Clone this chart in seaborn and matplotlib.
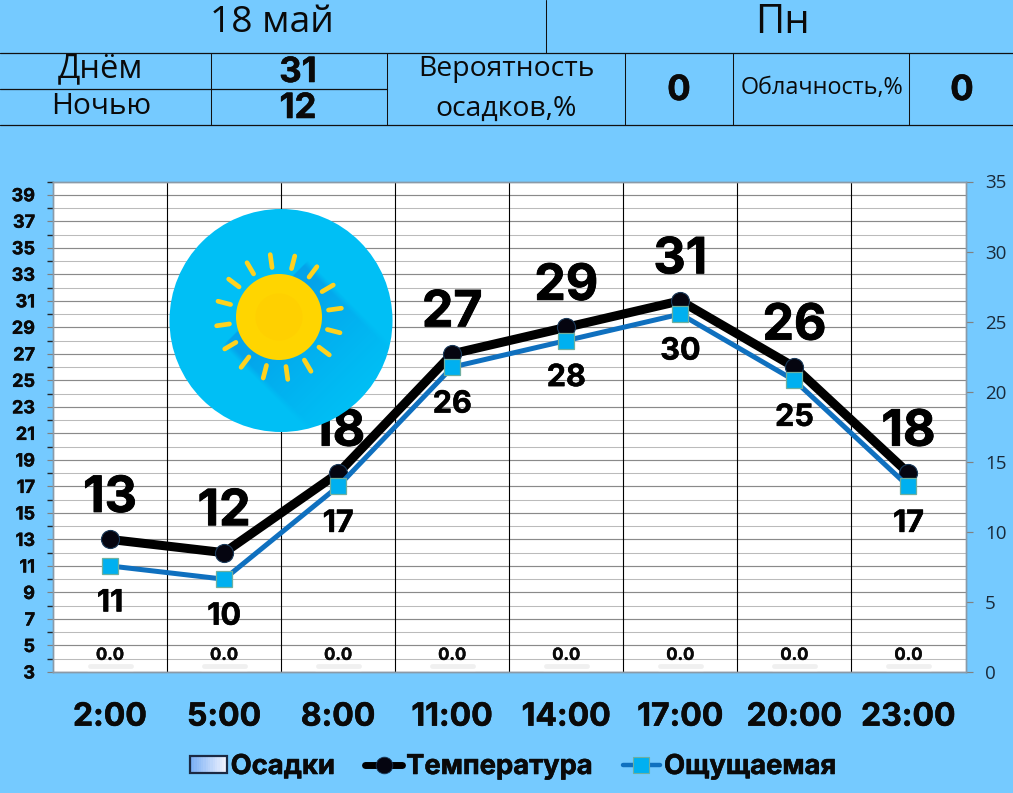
import numpy as np
import pandas as pd
import seaborn as sns
import matplotlib
matplotlib.use("Agg")
import matplotlib.pyplot as plt
import matplotlib.patheffects as pe
from matplotlib.lines import Line2D
from matplotlib.patches import Circle, Rectangle
from matplotlib.legend_handler import HandlerBase
from matplotlib.ticker import MultipleLocator

hours = ["2:00", "5:00", "8:00", "11:00", "14:00", "17:00", "20:00", "23:00"]
temperature = [13, 12, 18, 27, 29, 31, 26, 18]
feels_like = [11, 10, 17, 26, 28, 30, 25, 17]
precipitation = [0.0] * 8
header_date = "18 май"
header_weekday = "Пн"
day_temp = 31
night_temp = 12
precip_prob = 0
cloudiness = 0

BG = "#75CAFF"
W, H = 1013, 793
BOLD = ["Inter", "DejaVu Sans"]
LIGHT = ["Open Sans", "DejaVu Sans"]
HEAVY = [pe.withStroke(linewidth=0.4, foreground="#0a0a0a")]

sns.set_theme(style="white")
plt.rcParams["font.family"] = BOLD

fig = plt.figure(figsize=(W / 100, H / 100), dpi=100, facecolor=BG)

def fx(x): return x / W
def fy(y): return 1 - y / H

# header table
def hline(x0, x1, y, lw=0.9):
    fig.add_artist(Line2D([fx(x0), fx(x1)], [fy(y), fy(y)], color="#111111", lw=lw))
def vline(x, y0, y1, lw=0.75):
    fig.add_artist(Line2D([fx(x), fx(x)], [fy(y0), fy(y1)], color="#111111", lw=lw))

hline(0, W, 53); hline(0, W, 125); hline(0, 387, 89)
vline(546, 0, 53)
for xv in (211, 387, 625, 733, 909):
    vline(xv, 53, 125)

def ftext(x, y, s, size, weight="normal", fam=LIGHT, effects=None):
    t = fig.text(fx(x), fy(y), s, ha="center", va="center", fontsize=size,
                 fontweight=weight, family=fam, color="#0a0a0a")
    if effects:
        t.set_path_effects(effects)

ftext(272, 23, header_date, 26.8)
ftext(782, 23, header_weekday, 29)
ftext(100, 69, "Днём", 23.5)
ftext(101, 106, "Ночью", 21.5)
ftext(506, 69, "Вероятность", 20.4)
ftext(506, 109, "осадков,%", 20.4)
ftext(822, 88, "Облачность,%", 16.8)
ftext(298, 73, str(day_temp), 25, "bold", BOLD, HEAVY)
ftext(298, 109, str(night_temp), 25, "bold", BOLD, HEAVY)
ftext(679, 91, str(precip_prob), 25, "bold", BOLD, HEAVY)
ftext(962, 91, str(cloudiness), 25, "bold", BOLD, HEAVY)

# main axes
L, R, T, B = 53, 965.5, 181.5, 672
ax = fig.add_axes([fx(L), fy(B), (R - L) / W, (B - T) / H], facecolor="white")
df = pd.DataFrame({"hour": hours, "temp": temperature, "feels": feels_like, "rain": precipitation})
df["hour"] = pd.Categorical(df["hour"], categories=hours, ordered=True)

sns.lineplot(data=df, x="hour", y="temp", ax=ax, color="black", lw=6.5, zorder=4,
             marker="o", markersize=13, markerfacecolor="#050510", markeredgecolor="#1a3a5a",
             markeredgewidth=0.8, solid_capstyle="round", sort=False)
sns.lineplot(data=df, x="hour", y="feels", ax=ax, color="#0F70BF", lw=3.6, zorder=5,
             marker="s", markersize=11.5, markerfacecolor="#00B0F0", markeredgecolor="#6FAF9F",
             markeredgewidth=0.9, solid_capstyle="round", sort=False)

ax.set_xlim(-0.5, 7.5)
ax.set_ylim(3, 40)
ax.set_xlabel(""); ax.set_ylabel("")
ax.yaxis.set_major_locator(MultipleLocator(2))
ax.yaxis.set_minor_locator(MultipleLocator(1))
ax.set_yticks(np.arange(3, 40, 2))
ax.grid(True, axis="y", which="major", color="#8A8A8A", lw=0.85, zorder=0)
ax.grid(True, axis="y", which="minor", color="#BBBBBB", lw=0.75, zorder=0)
ax.set_axisbelow(True)
for xb in np.arange(0.5, 7.5, 1):
    ax.axvline(xb, color="black", lw=0.8, zorder=1)
ax.set_xticks(np.arange(-0.5, 8, 1), minor=False)
ax.set_xticklabels([])
ax.tick_params(axis="x", which="major", length=8, width=0.8, color="#808080", bottom=True)
ax.tick_params(axis="y", which="major", length=4.5, width=0.85, color="#808080", left=True,
               labelsize=13, pad=8.5, labelcolor="#0a0a0a")
ax.tick_params(axis="y", which="minor", left=False)
for lab in ax.get_yticklabels():
    lab.set_fontweight("bold")
    lab.set_path_effects([pe.withStroke(linewidth=0.3, foreground="#0a0a0a")])
for i, h in enumerate(hours):
    a = ax.annotate(h, (i, 0), xycoords=ax.get_xaxis_transform(), xytext=(0, -32.5), textcoords="offset points",
                    ha="center", va="center", fontsize=23, fontweight="bold", color="#0a0a0a",
                    annotation_clip=False)
    a.set_path_effects(HEAVY)
for sp in ax.spines.values():
    sp.set_color("#8a9aa8"); sp.set_linewidth(1.0); sp.set_visible(True)

for i, (a, b) in enumerate(zip(temperature, feels_like)):
    t1 = ax.annotate(str(a), (i, a), xytext=(0, 29.5), textcoords="offset points", ha="center", va="center",
                     fontsize=36, fontweight="bold", color="black", zorder=6)
    t2 = ax.annotate(str(b), (i, b), xytext=(0, -27), textcoords="offset points", ha="center", va="center",
                     fontsize=22, fontweight="bold", color="black", zorder=6)
    t1.set_path_effects([pe.withStroke(linewidth=0.6, foreground="black")])
    t2.set_path_effects(HEAVY)

# precipitation on the right axis
ax2 = ax.twinx()
ax2.patch.set_visible(False)
sns.barplot(data=df, x="hour", y="rain", ax=ax2, width=0.4, color="#BBD6F8", zorder=2)
ax2.set_xlim(-0.5, 7.5)
ax2.set_ylim(0, 35)
ax2.set_xlabel(""); ax2.set_ylabel("")
ax2.set_xticks([])
ax2.set_yticks(np.arange(0, 36, 5))
ax2.tick_params(axis="y", length=5, width=0.85, color="#808080", right=True, left=False,
                labelsize=13.5, pad=9, labelcolor="#1a2a3a")
for lab in ax2.get_yticklabels():
    lab.set_family(LIGHT)
for sp in ax2.spines.values():
    sp.set_color("#8a9aa8"); sp.set_linewidth(1.0)
for p, v in zip(ax2.patches, precipitation):
    xc = p.get_x() + p.get_width() / 2
    z = ax2.annotate(f"{v:.1f}", (xc, v), xytext=(0, 12), textcoords="offset points", ha="center", va="center",
                     fontsize=12, fontweight="bold", color="#0a0a0a", zorder=6)
    z.set_path_effects([pe.withStroke(linewidth=0.3, foreground="#0a0a0a")])
    ax2.plot([p.get_x() + 0.02, p.get_x() + p.get_width() - 0.02], [v + 0.45, v + 0.45], color="#EDEDED",
             lw=3.5, alpha=0.8, solid_capstyle="round", zorder=1)

# sun icon (inset axes in pixel units)
cx, cy, rad = 281, 320.5, 111.5
sun = fig.add_axes([fx(cx - rad - 1), fy(cy + rad + 1), (2 * rad + 2) / W, (2 * rad + 2) / H], zorder=10)
sun.axis("off")
sun.patch.set_visible(False)
disc = Circle((cx, cy), rad, facecolor="#00BFF5", lw=0, zorder=1)
sun.add_patch(disc)
sx, sy, sr = 279, 317, 43
gx, gy = np.meshgrid(np.arange(cx - rad - 1, cx + rad + 1, 0.5), np.arange(cy - rad - 1, cy + rad + 1, 0.5))
t = ((gx - sx) + (gy - sy)) / np.sqrt(2)
s = ((gx - sx) - (gy - sy)) / np.sqrt(2)
alpha = (np.clip(1 - t / 118, 0, 1) ** 1.2) * 0.36 * np.clip((60 - np.abs(s)) / 6, 0, 1) * (t > -20)
rgba = np.zeros(gx.shape + (4,))
rgba[..., 0], rgba[..., 1], rgba[..., 2] = 0.05, 0.45, 0.85
rgba[..., 3] = alpha
im = sun.imshow(rgba, extent=(cx - rad - 1, cx + rad + 1, cy + rad + 1, cy - rad - 1),
                origin="upper", interpolation="bilinear", aspect="auto", zorder=2)
im.set_clip_path(disc)
sun.set_xlim(cx - rad - 1, cx + rad + 1)
sun.set_ylim(cy + rad + 1, cy - rad - 1)
for k in range(16):
    ang = np.deg2rad(8 + 22.5 * k)
    sun.plot([sx + 50 * np.cos(ang), sx + 63 * np.cos(ang)], [sy - 50 * np.sin(ang), sy - 63 * np.sin(ang)],
             color="#FFD21E", lw=3.4, solid_capstyle="round", zorder=3)
sun.add_patch(Circle((sx, sy), sr, facecolor="#FFD500", lw=0, zorder=4))
sun.add_patch(Circle((sx, sy), sr * 0.55, facecolor="#FFCC00", lw=0, alpha=0.5, zorder=5))

# legend
class GradientHandler(HandlerBase):
    def create_artists(self, legend, orig, xd, yd, width, height, fontsize, trans):
        arts = []
        n = 16
        c0 = np.array(matplotlib.colors.to_rgb("#78AEF5"))
        c1 = np.array(matplotlib.colors.to_rgb("#EEF2FE"))
        for i in range(n):
            c = c0 + (c1 - c0) * i / (n - 1)
            arts.append(Rectangle((-xd + width * i / n, -yd), width / n + 0.3, height,
                                  facecolor=c, edgecolor="none", transform=trans))
        arts.append(Rectangle((-xd, -yd), width, height, facecolor="none", edgecolor="#1B2A44",
                              lw=1.6, transform=trans))
        return arts

h_bar = Rectangle((0, 0), 1, 1)
h_t = Line2D([], [], color="black", lw=5, marker="o", markersize=12, markerfacecolor="#050510",
             markeredgecolor="#1a3a5a", markeredgewidth=0.6, solid_capstyle="round")
h_f = Line2D([], [], color="#0F70BF", lw=3.2, marker="s", markersize=11, markerfacecolor="#00B0F0",
             markeredgecolor="#6FAF9F", markeredgewidth=0.8, solid_capstyle="round")
leg = fig.legend([h_bar, h_t, h_f], ["Осадки", "Температура", "Ощущаемая"],
                 handler_map={Rectangle: GradientHandler()},
                 loc="center", bbox_to_anchor=(fx(513), fy(767)), ncol=3, frameon=False,
                 prop={"family": BOLD, "weight": "bold", "size": 19.7},
                 handlelength=1.35, handleheight=0.6, handletextpad=0.15, columnspacing=1.1)
for tx in leg.get_texts():
    tx.set_color("#0a0a0a")
    tx.set_path_effects(HEAVY)

fig.savefig("out.png", dpi=100, facecolor=BG)
